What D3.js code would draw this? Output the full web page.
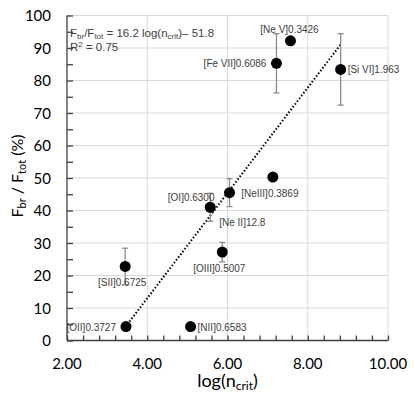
<!DOCTYPE html>
<html>
<head>
<meta charset="utf-8">
<title>Fbr / Ftot vs log(ncrit)</title>
<script src="https://cdn.jsdelivr.net/npm/d3@7"></script>
<style>
  body { margin: 0; background: #fff; }
  svg text { font-family: "Liberation Sans", Arial, sans-serif; }
  svg text.tick-label, svg text.axis-title { font-family: Lato, "Open Sans", sans-serif; }
</style>
</head>
<body>
<script>
// data
var lines   = ["[OII]0.3727", "[SII]0.6725", "[NII]0.6583", "[Ne II]12.8", "[OI]0.6300",
               "[OIII]0.5007", "[NeIII]0.3869", "[Fe VII]0.6086", "[Ne V]0.3426", "[Si VI]1.963"];
var logNcrit = [3.47, 3.45, 5.08, 5.57, 6.05, 5.87, 7.13, 7.22, 7.57, 8.82];
var fracBr   = [4.3, 22.8, 4.3, 41.0, 45.5, 27.2, 50.3, 85.3, 92.2, 83.4];
var errBr    = [0, 5.6, 0, 4.3, 4.3, 3.0, 0, 9.1, 0, 11.0];
// where each label sits: l = left, r = right, b = below, a = above, br = below right, lb = left, a bit low
var labelPos = ["l", "b", "r", "br", "lb", "b", "b", "l", "a", "r"];
var fitSlope = 16.2, fitIntercept = -51.8, fitR2 = 0.75;
var xTicks = [2, 4, 6, 8, 10];
var yTicks = [0, 10, 20, 30, 40, 50, 60, 70, 80, 90, 100];

var w = 415, h = 399;
var mLeft = 67, mRight = 388, mTop = 15.5, mBottom = 340.5;

var svg = d3.select("body").append("svg").attr("width", w).attr("height", h);

var x = d3.scaleLinear().domain([2, 10]).range([mLeft, mRight]);
var y = d3.scaleLinear().domain([0, 100]).range([mBottom, mTop]);

// gridlines
svg.append("g").selectAll("line").data(yTicks.slice(1)).enter().append("line")
  .attr("x1", mLeft).attr("x2", mRight)
  .attr("y1", function(d) { return y(d); }).attr("y2", function(d) { return y(d); })
  .attr("stroke", "#d9d9d9").attr("stroke-width", 1);
svg.append("g").selectAll("line").data(xTicks.slice(1)).enter().append("line")
  .attr("y1", mTop).attr("y2", mBottom)
  .attr("x1", function(d) { return x(d); }).attr("x2", function(d) { return x(d); })
  .attr("stroke", "#d9d9d9").attr("stroke-width", 1);

// axes with ticks pointing inward
var xMinor = d3.range(2, 10.001, 0.4);
var yMinor = d3.range(0, 100.001, 5);

var xAxis = d3.axisBottom(x).tickValues(xMinor).tickSize(-5).tickFormat("");
var gx = svg.append("g").attr("transform", "translate(0," + mBottom + ")").call(xAxis);
gx.selectAll("line, path").attr("stroke", "#404040").attr("stroke-width", 1.3);
gx.select(".domain").attr("d", "M" + mLeft + ",0H" + mRight);

var yAxis = d3.axisLeft(y).tickValues(yMinor).tickSize(-6).tickFormat("");
var gy = svg.append("g").attr("transform", "translate(" + mLeft + ",0)").call(yAxis);
gy.selectAll("line, path").attr("stroke", "#404040").attr("stroke-width", 1.3);
gy.select(".domain").attr("d", "M0," + mTop + "V" + mBottom);

// tick labels
svg.append("g").selectAll("text").data(xTicks).enter().append("text")
  .attr("class", "tick-label")
  .attr("x", function(d) { return x(d); }).attr("y", 369)
  .attr("text-anchor", "middle").style("font-size", "15px").attr("fill", "#000")
  .text(function(d) { return d.toFixed(2); });
svg.append("g").selectAll("text").data(yTicks).enter().append("text")
  .attr("class", "tick-label")
  .attr("x", 51).attr("y", function(d) { return y(d) + 5.5; })
  .attr("text-anchor", "end").style("font-size", "15px").attr("fill", "#000")
  .text(function(d) { return d; });

// axis titles
var xt = svg.append("text").attr("class", "axis-title")
  .attr("x", (mLeft + mRight) / 2).attr("y", 387)
  .attr("text-anchor", "middle").style("font-size", "18px");
xt.append("tspan").text("log(n");
xt.append("tspan").attr("dy", 3).style("font-size", "12px").text("crit");
xt.append("tspan").attr("dy", -3).text(")");

var yt = svg.append("text").attr("class", "axis-title")
  .attr("transform", "translate(23,176) rotate(-90)")
  .attr("text-anchor", "middle").style("font-size", "16px");
yt.append("tspan").text("F");
yt.append("tspan").attr("dy", 3).style("font-size", "11px").text("br");
yt.append("tspan").attr("dy", -3).text(" / F");
yt.append("tspan").attr("dy", 3).style("font-size", "11px").text("tot");
yt.append("tspan").attr("dy", -3).text(" (%)");

var pts = logNcrit.map(function(d, i) {
  return { x: d, y: fracBr[i], e: errBr[i], name: lines[i], pos: labelPos[i] };
});

// trend line
var xExt = d3.extent(logNcrit);
svg.append("line")
  .attr("x1", x(xExt[0])).attr("y1", y(fitSlope * xExt[0] + fitIntercept))
  .attr("x2", x(xExt[1])).attr("y2", y(fitSlope * xExt[1] + fitIntercept))
  .attr("stroke", "#000").attr("stroke-width", 2).attr("stroke-dasharray", "1.5,2");

// error bars
var eb = svg.append("g").selectAll("g").data(pts.filter(function(d) { return d.e > 0; }))
  .enter().append("g").attr("stroke", "#8c8c8c").attr("stroke-width", 1.3);
eb.append("line")
  .attr("x1", function(d) { return x(d.x); }).attr("x2", function(d) { return x(d.x); })
  .attr("y1", function(d) { return y(d.y + d.e); }).attr("y2", function(d) { return y(d.y - d.e); });
eb.append("line")
  .attr("x1", function(d) { return x(d.x) - 3; }).attr("x2", function(d) { return x(d.x) + 3; })
  .attr("y1", function(d) { return y(d.y + d.e); }).attr("y2", function(d) { return y(d.y + d.e); });
eb.append("line")
  .attr("x1", function(d) { return x(d.x) - 3; }).attr("x2", function(d) { return x(d.x) + 3; })
  .attr("y1", function(d) { return y(d.y - d.e); }).attr("y2", function(d) { return y(d.y - d.e); });

// points
svg.append("g").selectAll("circle").data(pts).enter().append("circle")
  .attr("cx", function(d) { return x(d.x); }).attr("cy", function(d) { return y(d.y); })
  .attr("r", 5.5).attr("fill", "#000");

// point labels
var off = {
  l:  { dx: -10, dy: 4,  a: "end" },
  lb: { dx: -15, dy: 8,  a: "end" },
  r:  { dx: 7,   dy: 4,  a: "start" },
  b:  { dx: -3,  dy: 20, a: "middle" },
  a:  { dx: -1,  dy: -8, a: "middle" },
  br: { dx: 9,   dy: 19, a: "start" }
};
svg.append("g").selectAll("text").data(pts).enter().append("text")
  .attr("x", function(d) { return x(d.x) + off[d.pos].dx; })
  .attr("y", function(d) { return y(d.y) + off[d.pos].dy; })
  .attr("text-anchor", function(d) { return off[d.pos].a; })
  .style("font-size", "10px").attr("fill", "#404040")
  .text(function(d) { return d.name; });

// fit equation
var eq = svg.append("text").attr("x", 70).attr("y", 37).style("font-size", "11.5px").attr("fill", "#404040");
eq.append("tspan").text("F");
eq.append("tspan").attr("dy", 2).style("font-size", "8px").text("br");
eq.append("tspan").attr("dy", -2).text("/F");
eq.append("tspan").attr("dy", 2).style("font-size", "8px").text("tot");
eq.append("tspan").attr("dy", -2).text("  = " + fitSlope + " log(n");
eq.append("tspan").attr("dy", 2).style("font-size", "8px").text("crit");
eq.append("tspan").attr("dy", -2).text(")\u2013 " + Math.abs(fitIntercept));
var r2 = svg.append("text").attr("x", 70).attr("y", 51).style("font-size", "11.5px").attr("fill", "#404040");
r2.append("tspan").text("R");
r2.append("tspan").attr("dy", -4).style("font-size", "8px").text("2");
r2.append("tspan").attr("dy", 4).text(" = " + fitR2);
</script>
</body>
</html>
